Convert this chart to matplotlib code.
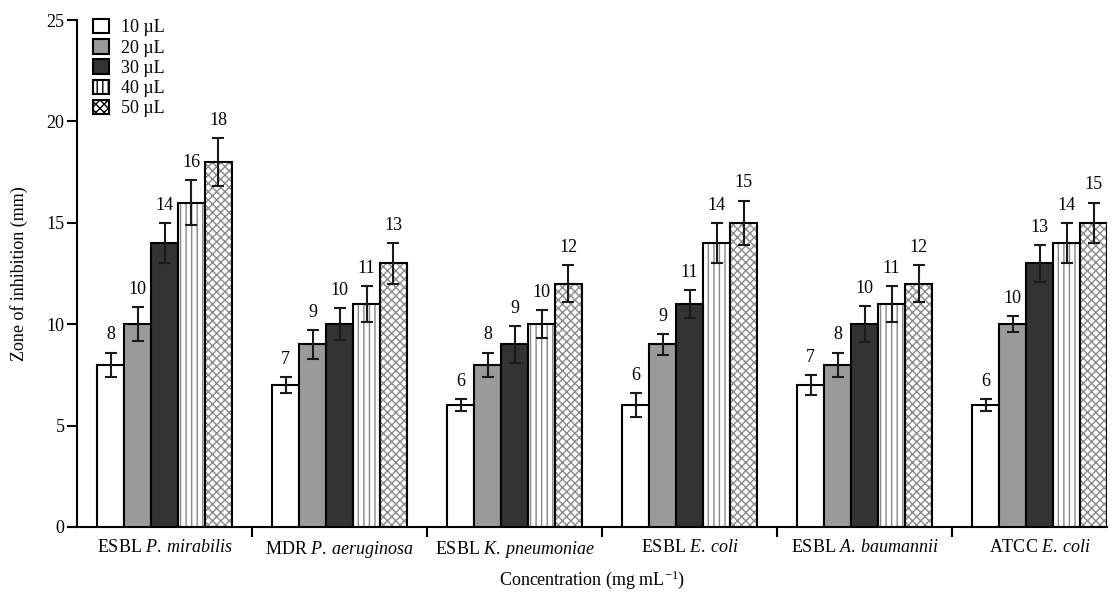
import numpy as np
import matplotlib
matplotlib.use("Agg")
import matplotlib.pyplot as plt
from matplotlib.patches import Patch

plt.rcParams['font.family'] = ['Liberation Serif', 'DejaVu Serif']
plt.rcParams['mathtext.fontset'] = 'custom'
plt.rcParams['mathtext.rm'] = 'Liberation Serif'
plt.rcParams['mathtext.it'] = 'Liberation Serif:italic'
plt.rcParams['hatch.linewidth'] = 1.0

# Données
categories = [r"ESBL $\mathit{P.\>mirabilis}$", r"MDR $\mathit{P.\>aeruginosa}$",
              r"ESBL $\mathit{K.\>pneumoniae}$", r"ESBL $\mathit{E.\>coli}$",
              r"ESBL $\mathit{A.\>baumannii}$", r"ATCC $\mathit{E.\>coli}$"]
series_labels = ["10 µL", "20 µL", "30 µL", "40 µL", "50 µL"]
vol_10 = [8, 7, 6, 6, 7, 6]
vol_20 = [10, 9, 8, 9, 8, 10]
vol_30 = [14, 10, 9, 11, 10, 13]
vol_40 = [16, 11, 10, 14, 11, 14]
vol_50 = [18, 13, 12, 15, 12, 15]
err_10 = [0.6, 0.4, 0.3, 0.6, 0.5, 0.3]
err_20 = [0.85, 0.7, 0.6, 0.5, 0.6, 0.4]
err_30 = [1.0, 0.8, 0.9, 0.7, 0.9, 0.9]
err_40 = [1.1, 0.9, 0.7, 1.0, 0.9, 1.0]
err_50 = [1.2, 1.0, 0.9, 1.1, 0.9, 1.0]

values = [vol_10, vol_20, vol_30, vol_40, vol_50]
errors = [err_10, err_20, err_30, err_40, err_50]

# styles: (couleur de fond, hachure, couleur de hachure)
styles = [("white", None, None),
          ("#9a9a9a", None, None),
          ("#333333", None, None),
          ("white", "|||", "#888888"),
          ("white", "xxxx", "#8a8a8a")]

fig = plt.figure(figsize=(11.16, 5.94), dpi=100)
ax = fig.add_axes([0.069, 0.1128, 0.923, 0.8535])

x = np.arange(len(categories))
width = 0.154
fs = 13

for i, (vals, errs) in enumerate(zip(values, errors)):
    pos = x + (i - 2) * width
    face, hatch, hcol = styles[i]
    if hatch:
        ax.bar(pos, vals, width, color=face, edgecolor=hcol, hatch=hatch, linewidth=0, zorder=2)
        ax.bar(pos, vals, width, fill=False, edgecolor="black", linewidth=1.5, zorder=3)
    else:
        ax.bar(pos, vals, width, color=face, edgecolor="black", linewidth=1.5, zorder=3)
    ax.errorbar(pos, vals, yerr=errs, fmt="none", ecolor="#1a1a1a", elinewidth=1.5,
                capsize=4.5, capthick=1.5, zorder=4)
    for p, v, e in zip(pos, vals, errs):
        ax.text(p, v + e + 0.45, str(v), ha="center", va="bottom", fontsize=fs)

ax.set_xlim(-0.5, x[-1] + 2.5 * width)
ax.set_ylim(0, 25)
ax.set_yticks([0, 5, 10, 15, 20, 25])
ax.set_xticks(x)
ax.set_xticklabels(categories, fontsize=fs)
ax.set_xticks(x[:-1] + 0.5, minor=True)
ax.tick_params(axis="x", which="major", length=0, pad=9)
ax.tick_params(axis="x", which="minor", length=7, width=1.5, direction="out")
ax.tick_params(axis="y", labelsize=fs, length=7, width=1.5, direction="out", pad=2)

for side in ["top", "right"]:
    ax.spines[side].set_visible(False)
for side in ["left", "bottom"]:
    ax.spines[side].set_linewidth(1.5)

ax.set_ylabel("Zone of inhibition (mm)", fontsize=fs, labelpad=13)
ax.set_xlabel("Concentration (mg mL$^{-1}$)", fontsize=fs, labelpad=6)

handles = []
for (face, hatch, hcol), lab in zip(styles, series_labels):
    if hatch:
        handles.append(Patch(facecolor=face, edgecolor="black", hatch=hatch, linewidth=1.5, label=lab))
    else:
        handles.append(Patch(facecolor=face, edgecolor="black", linewidth=1.5, label=lab))
ax.legend(handles=handles, loc="upper left", bbox_to_anchor=(0.0, 1.034), frameon=False,
          fontsize=fs, handlelength=0.85, handleheight=0.85, handletextpad=0.7,
          labelspacing=0.15, borderaxespad=0.5)

fig.savefig("out.png", dpi=100)
